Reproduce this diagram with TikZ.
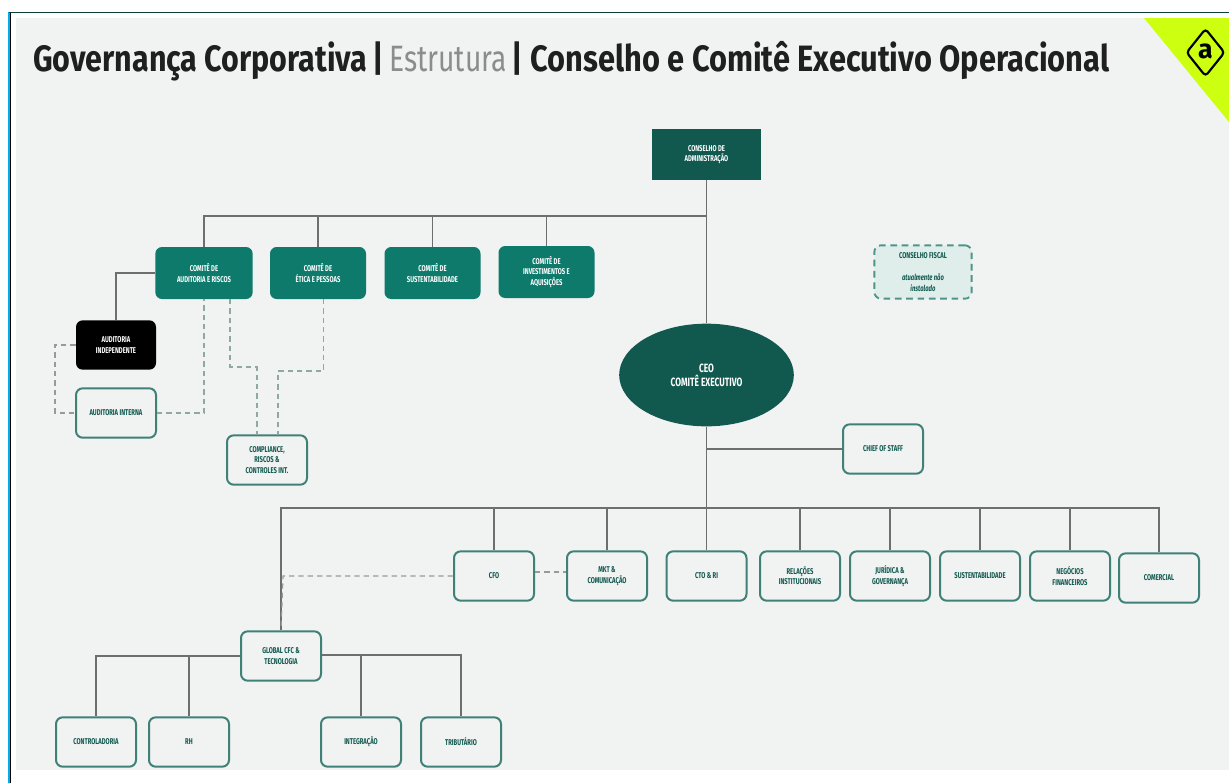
\documentclass[tikz,border=0pt]{standalone}
\usepackage{fontspec}
\setmainfont{Fira Sans}
\newfontfamily\condf[FakeStretch=0.70]{Fira Sans}
\newfontfamily\titlef[FakeStretch=0.83]{Fira Sans}
\newfontfamily\titler[FakeStretch=0.84]{Fira Sans}
\newfontfamily\titlel[FakeStretch=0.77]{Fira Sans}
\usetikzlibrary{shapes.geometric}
\definecolor{bgg}{HTML}{F1F2F2}
\definecolor{tealA}{HTML}{0E7A6B}
\definecolor{tealD}{HTML}{11594F}
\definecolor{edgeT}{HTML}{3F8177}
\definecolor{lineG}{HTML}{6E6E6E}
\definecolor{dashG}{HTML}{8FA8A2}
\definecolor{lime}{HTML}{CCFF10}
\definecolor{tint}{HTML}{DFEEEB}
\definecolor{dashT}{HTML}{4F9488}
\tikzset{
 x=0.75pt,y=-0.75pt,
 base/.style={rounded corners=5pt,align=center,inner sep=0pt,font=\condf\bfseries\fontsize{6.3}{7.8}\selectfont},
 fillbox/.style={base,fill=tealA,text=white,minimum width=73pt,minimum height=39pt},
 outbox/.style={base,draw=edgeT,line width=1.5pt,fill=bgg,text=tealD,minimum width=60pt,minimum height=37pt},
 conn/.style={draw=lineG,line width=1.1pt},
 dashc/.style={draw=dashG,line width=1.1pt,dash pattern=on 4pt off 3pt},
 dashk/.style={draw=lineG!70,line width=0.9pt,dash pattern=on 4pt off 3pt},
}
\begin{document}
\begin{tikzpicture}
\useasboundingbox (0,0) rectangle (1229,783);
\fill[white] (0,0) rectangle (1229,783);
\fill[bgg] (16,18) rectangle (1229,770);
\fill[lime] (1144,18) -- (1229,18) -- (1229,122) -- cycle;
\draw[cyan,line width=0.9pt] (9,12) -- (9,783);
\draw[black,line width=1.1pt] (10.5,12) -- (10.5,783);
\draw[tealD!70!black,line width=1pt] (9,12.5) -- (1229,12.5);
\node[anchor=west,inner sep=0pt,text=black!88] (title) at (33,61) {\fontsize{27.5}{30}\selectfont\titlef\bfseries Governança Corporativa\hskip-1.5pt{} |\hskip-1.5pt{} {\titlel\mdseries\color{black!45}Estrutura}\hskip-2.2pt{} |\hskip0.8pt{} {\titler\bfseries Conselho e Comitê Executivo Operacional}};
% logo
\node[diamond,draw=black,line width=1.6pt,rounded corners=2.5pt,minimum width=29pt,minimum height=36pt,inner sep=0pt] (logo) at (1205.5,52.5) {};
\node[inner sep=0pt,text=black] (logoa) at (1205.5,51) {\fontsize{20}{20}\selectfont\bfseries a};
% nodes
\node[base,fill=tealD,text=white,rounded corners=0pt,minimum width=82pt,minimum height=38.5pt] (ca) at (706.5,154.5) {CONSELHO DE\\ADMINISTRAÇÃO};
\node[fillbox] (c1) at (204,273) {COMITÊ DE\\AUDITORIA E RISCOS};
\node[fillbox,minimum width=72pt] (c2) at (318,273) {COMITÊ DE\\ÉTICA E PESSOAS};
\node[fillbox,minimum width=72pt] (c3) at (432.5,273) {COMITÊ DE\\SUSTENTABILIDADE};
\node[fillbox,minimum width=72pt] (c4) at (546.5,272) {COMITÊ DE\\INVESTIMENTOS E\\AQUISIÇÕES};
\node[base,fill=tint,line width=1.4pt,dash pattern=on 5pt off 3.5pt,draw=dashT,text=tealD,minimum width=73pt,minimum height=40pt] (cf) at (923,272) {CONSELHO FISCAL\\[9pt]{\itshape atualmente não}\\{\itshape instalado}};
\node[base,fill=black,text=white,minimum width=60pt,minimum height=37pt] (ai) at (116,345) {AUDITORIA\\INDEPENDENTE};
\node[outbox] (aint) at (116,413) {AUDITORIA INTERNA};
\node[outbox] (comp) at (267,460) {COMPLIANCE,\\RISCOS \&\\CONTROLES INT.};
\node[ellipse,fill=tealD,text=white,inner sep=0pt,minimum width=131pt,minimum height=77pt,align=center,font=\condf\bfseries\fontsize{9}{10.5}\selectfont] (ceo) at (706.5,375) {CEO\\COMITÊ EXECUTIVO};
\node[outbox] (cos) at (883,449) {CHIEF OF STAFF};
\node[outbox] (d1) at (494,576) {CFO};
\node[outbox] (d2) at (607,576) {MKT \&\\COMUNICAÇÃO};
\node[outbox] (d3) at (706.5,576) {CTO \& RI};
\node[outbox] (d4) at (800,576) {RELAÇÕES\\INSTITUCIONAIS};
\node[outbox] (d5) at (890,576) {JURÍDICA \&\\GOVERNANÇA};
\node[outbox] (d6) at (980,576) {SUSTENTABILIDADE};
\node[outbox] (d7) at (1070,576) {NEGÓCIOS\\FINANCEIROS};
\node[outbox] (d8) at (1159,578) {COMERCIAL};
\node[outbox] (g) at (281,656) {GLOBAL CFC \&\\TECNOLOGIA};
\node[outbox] (b1) at (96,742) {CONTROLADORIA};
\node[outbox] (b2) at (189,742) {RH};
\node[outbox] (b3) at (361,742) {INTEGRAÇÃO};
\node[outbox] (b4) at (461,742) {TRIBUTÁRIO};
% helper coordinates
\coordinate (busA) at (0,216);
\coordinate (busB) at (0,508);
% solid connectors
\draw[conn] (ca.south) -- (ceo.north);
\draw[conn] (ca.south |- busA) -- (c1.north |- busA) -- (c1.north);
\draw[conn] (c2.north |- busA) -- (c2.north);
\draw[conn] (c3.north |- busA) -- (c3.north);
\draw[conn] (c4.north |- busA) -- (c4.north);
\draw[conn] (c1.west) -- (ai.north |- c1.west) -- (ai.north);
\draw[conn] (ceo.south) -- (ca.south |- busB);
\draw[conn] (ca.south |- cos.west) -- (cos.west);
\draw[conn] (d8.north) -- (d8.north |- busB) -- (g.north |- busB) -- (g.north);
\foreach \n in {d1,d2,d3,d4,d5,d6,d7} \draw[conn] (\n.north |- busB) -- (\n.north);
\draw[conn] (g.west) -- (b1.north |- g.west) -- (b1.north);
\draw[conn] (b2.north |- g.west) -- (b2.north);
\draw[conn] (g.east) ++(0,-1) -- (b4.north |- 0,655) -- (b4.north);
\draw[conn] (b3.north |- 0,655) -- (b3.north);
% dashed
\draw[dashk] (ai.west) -- (55,345) -- (55,413) -- (aint.west);
\draw[dashc] (aint.east) -- (204,413) -- (c1.south);
\coordinate (c1b) at (230,299);
\draw[dashc] (c1b) -- (230,367) -- (257,367) -- (257,435);
\coordinate (c2b) at (323.5,299);
\draw[dashc] (c2b) -- (323.5,371) -- (278,371) -- (278,435);
\draw[dashk] (d1.west) -- (283,576) -- (g.north);
\draw[dashk] (d1.east |- 0,572) -- (d2.west |- 0,572);
\end{tikzpicture}
\end{document}
